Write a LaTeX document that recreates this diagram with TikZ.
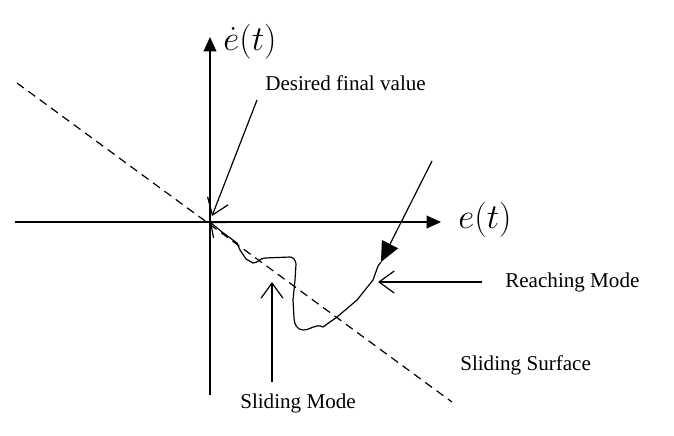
\documentclass[tikz,border=0pt]{standalone}
\usepackage{fontspec}
\setmainfont{Liberation Serif}
\usetikzlibrary{positioning, arrows.meta}

\tikzset{
  axisline/.style={line width=0.85pt, -{Triangle[length=0.36cm, width=0.32cm]}},
  pointer/.style={line width=0.85pt, -{Straight Barb[length=0.38cm, width=0.55cm, line width=0.85pt]}},
  label/.style={font=\fontsize{15}{17}\selectfont, anchor=west, inner sep=0pt},
  axislabel/.style={font=\fontsize{23}{26}\selectfont, inner sep=0pt}
}

\begin{document}
\begin{tikzpicture}[x=0.025cm, y=-0.025cm]

% Bounding box with the margins of the picture
\useasboundingbox (0,0) rectangle (674,435);

% Origin and axes
\coordinate (origin) at (210,222);
\coordinate (ybot) at (210,395);
\coordinate (ytop) at (210,37);
\coordinate (xleft) at (15,222);
\coordinate (xright) at (441,222);

\draw[axisline] (ybot) -- (ytop);
\draw[axisline] (xleft) -- (xright);

\node[axislabel] (edot) at (250,42) {$\dot{e}\bigl(t\bigr)$};
\node[axislabel] (e) at (485,220) {$e\bigl(t\bigr)$};

% Sliding surface
\coordinate (sstart) at (17,83);
\coordinate (send) at (452,402);
\draw[line width=0.85pt, dash pattern=on 6pt off 4pt] (sstart) -- (send);

% Labels
\node[label] (desired) at (265,83) {Desired final value};
\node[label] (reaching) at (505,282) {Reaching Mode};
\node[label] (surface) at (460,365) {Sliding Surface};
\node[label] (sliding) at (240,403) {Sliding Mode};

% Pointers to the curve
\coordinate (dstart) at (257,100);
\coordinate (dtip) at (212,216);
\draw[pointer] (dstart) -- (dtip);

\coordinate (sstem) at (272,382);
\coordinate (stip) at (272,282);
\draw[pointer] (sstem) -- (stip);

\coordinate (rstem) at (482,282);
\coordinate (rtip) at (378,282);
\draw[pointer] (rstem) -- (rtip);

% Reaching phase and trajectory back to the origin
\coordinate (rbegin) at (432,161);
\coordinate (rhit) at (381,262);
\draw[line width=0.85pt, -{Triangle[length=0.5cm, width=0.45cm]}] (rbegin) -- (rhit);

\draw[line width=0.85pt, line join=round, -{Straight Barb[length=0.3cm, width=0.5cm, line width=0.85pt]}]
  (rhit) -- (378,266) -- (373,280) -- (357,300) -- (337,317) -- (323,327)
  to[out=150, in=0] (303,330) to[out=180, in=-90] (294,318)
  -- (293,300) -- (295,280) -- (296,264) to[out=100, in=0] (290,257)
  -- (265,258) to[out=180, in=0] (253,263) -- (246,259) -- (240,250)
  -- (237,243) -- (222,232) -- (origin);

\end{tikzpicture}
\end{document}
